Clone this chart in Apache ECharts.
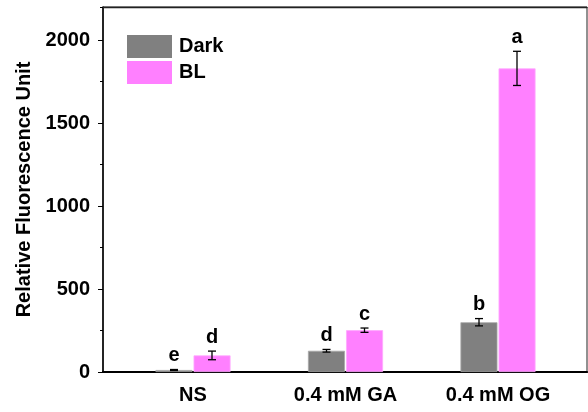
<!DOCTYPE html>
<html>
<head>
<meta charset="utf-8">
<script src="https://cdn.jsdelivr.net/npm/echarts@6/dist/echarts.min.js"></script>
<style>
html,body{margin:0;padding:0;background:#fff;}
#chart{width:588px;height:412px;}
</style>
</head>
<body>
<div id="chart"></div>
<script>
const categories = ['NS', '0.4 mM GA', '0.4 mM OG'];
const seriesNames = ['Dark', 'BL'];
const darkValues = [12, 128, 300];
const darkErrors = [3, 8, 22];
const blValues = [100, 252, 1830];
const blErrors = [26, 13, 103];
const darkLetters = ['e', 'd', 'b'];
const blLetters = ['d', 'c', 'a'];
const yMin = 0, yMax = 2200, yInterval = 500, yMinorInterval = 250;

const FONT = 'Liberation Sans, Arial, sans-serif';
const BAR_W = 37;
const HALF_OFFSET = 19;
const letters = [darkLetters, blLetters];

const chart = echarts.init(document.getElementById('chart'), null, {renderer: 'canvas'});

function errData(values, errors, sign) {
  return values.map((v, i) => [i, v, errors[i], sign]);
}

function renderErr(params, api) {
  const idx = api.value(0);
  const v = api.value(1);
  const e = api.value(2);
  const sign = api.value(3);
  const letter = letters[sign < 0 ? 0 : 1][params.dataIndex];
  const top = api.coord([idx, v + e]);
  const bot = api.coord([idx, v - e]);
  const x = top[0] + sign * HALF_OFFSET;
  const cap = 4;
  const style = {stroke: '#000', lineWidth: 1.3};
  return {
    type: 'group',
    children: [
      {type: 'line', shape: {x1: x, y1: top[1], x2: x, y2: bot[1]}, style: style},
      {type: 'line', shape: {x1: x - cap, y1: top[1], x2: x + cap, y2: top[1]}, style: style},
      {type: 'line', shape: {x1: x - cap, y1: bot[1], x2: x + cap, y2: bot[1]}, style: style},
      {type: 'text', x: x, y: top[1] - 4, style: {text: letter, fill: '#000', font: 'bold 20px ' + FONT, textAlign: 'center', textVerticalAlign: 'bottom'}}
    ]
  };
}

const option = {
  backgroundColor: '#fff',
  animation: false,
  legend: {
    data: seriesNames,
    orient: 'vertical',
    left: 127, top: 35, padding: 0,
    itemWidth: 45, itemHeight: 23, itemGap: 3,
    icon: 'rect',
    itemStyle: {borderWidth: 0},
    textStyle: {fontFamily: FONT, fontWeight: 'bold', fontSize: 20, color: '#000', padding: [0, 0, 0, 2]}
  },
  grid: [
    {left: 103, right: 1, top: 7, bottom: 40, show: true, borderColor: '#222', borderWidth: 1, backgroundColor: 'transparent'},
    {left: 116.75, right: 13.75, top: 7, bottom: 40}
  ],
  xAxis: [
    {type: 'value', gridIndex: 0, position: 'bottom', min: 0, max: 1,
     axisLine: {show: true, onZero: false, lineStyle: {color: '#000', width: 2.2}},
     axisTick: {show: false}, axisLabel: {show: false}, splitLine: {show: false}},
    {type: 'category', gridIndex: 1, position: 'bottom', data: categories,
     axisLine: {show: false}, axisTick: {show: false},
     axisLabel: {margin: 13, color: '#000', fontFamily: FONT, fontWeight: 'bold', fontSize: 20}},
    {type: 'value', gridIndex: 0, position: 'top', min: 0, max: 1,
     axisLine: {show: true, onZero: false, lineStyle: {color: '#222', width: 1.3}},
     axisTick: {show: false}, axisLabel: {show: false}, splitLine: {show: false}}
  ],
  yAxis: [
    {type: 'value', gridIndex: 0, position: 'left', min: yMin, max: yMax, interval: yInterval,
     name: 'Relative Fluorescence Unit', nameLocation: 'middle', nameGap: 58,
     nameTextStyle: {color: '#000', fontFamily: FONT, fontWeight: 'bold', fontSize: 20},
     axisLine: {show: true, onZero: false, lineStyle: {color: '#000', width: 1.5}},
     axisTick: {show: true, inside: false, length: 5, lineStyle: {color: '#000', width: 1}},
     axisLabel: {margin: 13, color: '#000', fontFamily: FONT, fontWeight: 'bold', fontSize: 20, showMaxLabel: false,
       formatter: v => String(v)},
     splitLine: {show: false}},
    {type: 'value', gridIndex: 1, min: yMin, max: yMax, interval: yInterval, show: false, splitLine: {show: false}},
    {type: 'value', gridIndex: 0, position: 'left', offset: 0, min: yMin, max: yMax, interval: yMinorInterval,
     axisLine: {show: false, onZero: false}, axisLabel: {show: false}, splitLine: {show: false},
     axisTick: {show: true, inside: false, length: 3, lineStyle: {color: '#000', width: 1}}}
  ],
  series: [
    {name: 'Dark', type: 'bar', xAxisIndex: 1, yAxisIndex: 1, data: darkValues, barWidth: BAR_W, barGap: '3%',
     itemStyle: {color: '#808080', borderColor: '#a8a8a8', borderWidth: 0.8}},
    {name: 'BL', type: 'bar', xAxisIndex: 1, yAxisIndex: 1, data: blValues, barWidth: BAR_W, barGap: '3%',
     itemStyle: {color: '#FF80FF', borderColor: '#ffa8ff', borderWidth: 0.8}},
    {type: 'custom', xAxisIndex: 1, yAxisIndex: 1, renderItem: renderErr, data: errData(darkValues, darkErrors, -1), z: 10},
    {type: 'custom', xAxisIndex: 1, yAxisIndex: 1, renderItem: renderErr, data: errData(blValues, blErrors, 1), z: 10}
  ]
};
chart.setOption(option);
</script>
</body>
</html>
